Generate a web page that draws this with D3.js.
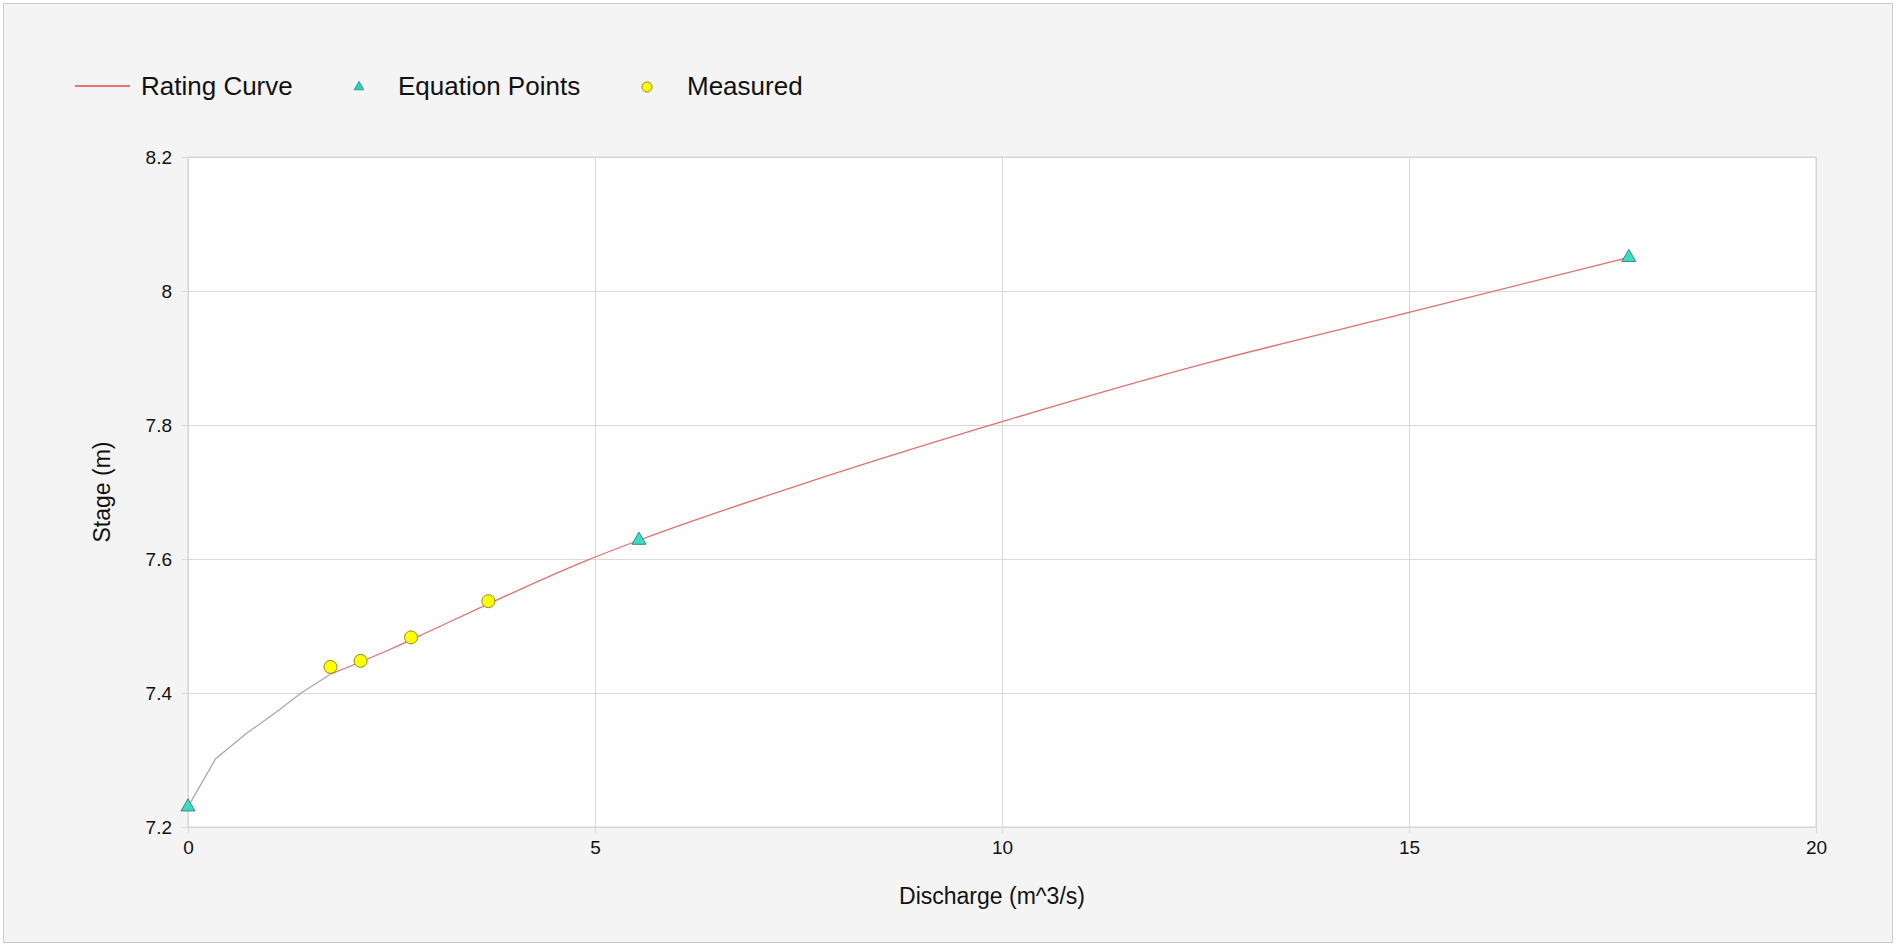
<!DOCTYPE html>
<html>
<head>
<meta charset="utf-8">
<script src="https://cdn.jsdelivr.net/npm/d3@7"></script>
<style>
  body { margin: 0; background: #fff; font-family: Arial, "Liberation Sans", sans-serif; }
  svg text { font-family: Arial, "Liberation Sans", sans-serif; fill: #111; }
</style>
</head>
<body>
<div id="chart"></div>
<script>
// rating curve, low section (gray) then fitted section (red)
const lowQ = [0, 0.34, 0.72, 1.09, 1.39, 1.75];
const lowH = [7.23, 7.302, 7.34, 7.372, 7.40, 7.428];
const curveQ = [1.75, 2.5, 3.0, 3.69, 4.9, 5.54, 7.5, 10, 12.5, 15, 17.7];
const curveH = [7.428, 7.466, 7.494, 7.533, 7.598, 7.628, 7.71, 7.805, 7.892, 7.968, 8.05];

const eqQ = [0, 5.54, 17.7];
const eqH = [7.23, 7.628, 8.05];

const measQ = [1.75, 2.12, 2.74, 3.69];
const measH = [7.439, 7.448, 7.483, 7.537];

const xTicks = [0, 5, 10, 15, 20];
const yTicks = [7.2, 7.4, 7.6, 7.8, 8, 8.2];

const W = 1896, H = 946;
const margin = {top: 157, right: 80, bottom: 119, left: 188};
const width = W - margin.left - margin.right,
      height = H - margin.top - margin.bottom;

const root = d3.select("#chart").append("svg")
  .attr("width", W)
  .attr("height", H);

// outer panel
root.append("rect")
  .attr("x", 3.5).attr("y", 3.5)
  .attr("width", W - 7).attr("height", H - 7)
  .attr("fill", "#f4f4f4")
  .attr("stroke", "#c9c9c9")
  .attr("stroke-width", 1);

const svg = root.append("g")
  .attr("transform", `translate(${margin.left}, ${margin.top})`);

svg.append("rect")
  .attr("width", width).attr("height", height)
  .attr("fill", "#fff");

const x = d3.scaleLinear().domain([0, 20]).range([0, width]);
const y = d3.scaleLinear().domain([7.2, 8.2]).range([height, 0]);

// x axis with grid
const xAxis = svg.append("g")
  .attr("transform", `translate(0, ${height})`)
  .call(d3.axisBottom(x).tickValues(xTicks).tickSize(-height - 6).tickPadding(14).tickFormat(d3.format("")));
xAxis.select(".domain").remove();
xAxis.selectAll(".tick line").attr("stroke", "#d9d9d9").attr("transform", "translate(0,6)");
xAxis.selectAll(".tick text").style("font-size", "19px").attr("dy", "0.71em");

// y axis with grid
const yAxis = svg.append("g")
  .call(d3.axisLeft(y).tickValues(yTicks).tickSize(-width - 6).tickPadding(10).tickFormat(d3.format("")));
yAxis.select(".domain").remove();
yAxis.selectAll(".tick line").attr("stroke", "#d9d9d9").attr("transform", "translate(-6,0)");
yAxis.selectAll(".tick text").style("font-size", "19px").attr("x", -16);

// plot border
svg.append("rect")
  .attr("width", width).attr("height", height)
  .attr("fill", "none")
  .attr("stroke", "#d4d4d4");

const line = d3.line()
  .x(d => x(d[0]))
  .y(d => y(d[1]));

svg.append("path")
  .datum(d3.zip(lowQ, lowH))
  .attr("fill", "none")
  .attr("stroke", "#a8a8a8")
  .attr("stroke-width", 1.3)
  .attr("d", line);

svg.append("path")
  .datum(d3.zip(curveQ, curveH))
  .attr("fill", "none")
  .attr("stroke", "#e07070")
  .attr("stroke-width", 1.3)
  .attr("d", line.curve(d3.curveMonotoneX));

const tri = d3.symbol().type(d3.symbolTriangle);

svg.selectAll(".eq")
  .data(d3.zip(eqQ, eqH))
  .join("path")
    .attr("class", "eq")
    .attr("transform", d => `translate(${x(d[0])}, ${y(d[1])})`)
    .attr("d", tri.size(85)())
    .attr("fill", "#3fd9c4")
    .attr("stroke", "#2b8f84")
    .attr("stroke-width", 1);

svg.selectAll(".meas")
  .data(d3.zip(measQ, measH))
  .join("circle")
    .attr("class", "meas")
    .attr("cx", d => x(d[0]))
    .attr("cy", d => y(d[1]))
    .attr("r", 6.5)
    .attr("fill", "#ffff00")
    .attr("stroke", "#8c8c1a")
    .attr("stroke-width", 1);

// axis titles
root.append("text")
  .attr("x", margin.left + width / 2 - 10)
  .attr("y", 904)
  .attr("text-anchor", "middle")
  .style("font-size", "23px")
  .text("Discharge (m^3/s)");

root.append("text")
  .attr("transform", `translate(110, ${margin.top + height / 2}) rotate(-90)`)
  .attr("text-anchor", "middle")
  .style("font-size", "23px")
  .text("Stage (m)");

// legend
const legend = root.append("g").attr("transform", "translate(0, 86)");
legend.append("line")
  .attr("x1", 75).attr("x2", 130)
  .attr("stroke", "#e8474a").attr("stroke-width", 1.5);
legend.append("text").attr("x", 141).attr("dy", "0.35em").style("font-size", "26px").text("Rating Curve");
legend.append("path")
  .attr("transform", "translate(359, 1)")
  .attr("d", d3.symbol().type(d3.symbolTriangle).size(40)())
  .attr("fill", "#2fd0c8").attr("stroke", "#2b9f98");
legend.append("text").attr("x", 398).attr("dy", "0.35em").style("font-size", "26px").text("Equation Points");
legend.append("circle")
  .attr("cx", 647).attr("cy", 1).attr("r", 5)
  .attr("fill", "#ffff00").attr("stroke", "#8c8c1a");
legend.append("text").attr("x", 687).attr("dy", "0.35em").style("font-size", "26px").text("Measured");
</script>
</body>
</html>
